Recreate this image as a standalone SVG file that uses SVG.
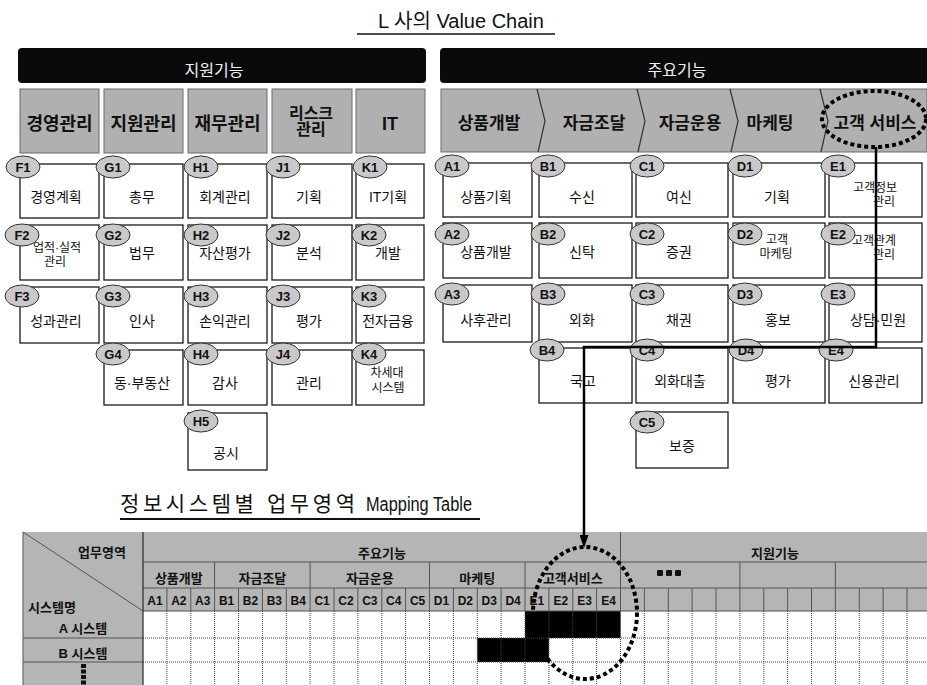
<svg xmlns="http://www.w3.org/2000/svg" width="927" height="685" viewBox="0 0 927 685">
<style>
text{font-family:'Liberation Sans','Noto Sans CJK KR',sans-serif}
.bar{fill:#0a0a0a}
.bart{fill:#f2f2f2;font-size:16px;text-anchor:middle}
.gbox{fill:#b0b0b0;stroke:#6a6a6a;stroke-width:1}
.gt{font-size:18px;font-weight:bold;text-anchor:middle;fill:#111}
.gt2{font-size:16px;font-weight:bold;text-anchor:middle;fill:#111}
.vt{font-size:17px;font-weight:bold;text-anchor:middle;fill:#111}
.wbox{fill:#fff;stroke:#1a1a1a;stroke-width:1.3}
.wt{font-size:14px;text-anchor:middle;fill:#111}
.wt2{font-size:12px;text-anchor:middle;fill:#111}
.tag{fill:#c9c9c9;stroke:#333;stroke-width:1}
.tagt{font-size:13px;font-weight:bold;text-anchor:middle;fill:#111}
.dot{fill:none;stroke:#000;stroke-width:4;stroke-dasharray:4 3}
.conn{fill:none;stroke:#000;stroke-width:2.5}
.th{fill:#b5b5b5}
.tt{font-size:13px;font-weight:bold;text-anchor:middle;fill:#111}
.ts{font-size:13px;font-weight:bold;text-anchor:start;fill:#111}
.tc{font-size:12px;font-weight:bold;text-anchor:middle;fill:#111}
.gl{fill:none;stroke:#555;stroke-width:1}
.dl{fill:none;stroke:#444;stroke-width:1;stroke-dasharray:1 1}
.sep{fill:none;stroke:#333;stroke-width:1.2}
</style>
<defs>
<marker id="ah" viewBox="0 0 13 9" refX="5" refY="4.5" markerWidth="13" markerHeight="9" markerUnits="userSpaceOnUse" orient="auto">
<path d="M0,0 L13,4.5 L0,9 z" fill="#000"/>
</marker>
</defs>

<!-- Titles -->
<g id="title-vc">
<text x="461" y="28" font-size="20" text-anchor="middle" fill="#111">L 사의 Value Chain</text>
<line x1="357" y1="34" x2="555" y2="34" stroke="#111" stroke-width="1.5"/>
</g>

<!-- Black bars -->
<g id="bar-support">
<rect class="bar" x="18" y="48" width="408" height="35" rx="4"/>
<text class="bart" x="214" y="76">지원기능</text>
</g>
<g id="bar-main">
<rect class="bar" x="440" y="48" width="495" height="35" rx="4"/>
<text class="bart" x="677" y="76">주요기능</text>
</g>

<!-- Support category boxes -->
<g id="cat-F"><rect class="gbox" x="20" y="89" width="79" height="64"/><text class="gt" x="59.5" y="130">경영관리</text></g>
<g id="cat-G"><rect class="gbox" x="104" y="89" width="79" height="64"/><text class="gt" x="143.5" y="130">지원관리</text></g>
<g id="cat-H"><rect class="gbox" x="188" y="89" width="79" height="64"/><text class="gt" x="227.5" y="130">재무관리</text></g>
<g id="cat-J"><rect class="gbox" x="272" y="89" width="80" height="64"/><text class="gt2" x="311" y="119">리스크</text><text class="gt2" x="311" y="135">관리</text></g>
<g id="cat-K"><rect class="gbox" x="356" y="89" width="69" height="64"/><text class="gt" x="390" y="130">IT</text></g>

<!-- Main chevron band -->
<g id="chain">
<rect x="441" y="89" width="486" height="63" fill="#b0b0b0" stroke="#6a6a6a" stroke-width="1"/>
<path class="sep" d="M537,89 L545,121 L538,152 M637,89 L645,121 L638,152 M730,89 L738,121 L731,152 M820,89 L828,121 L821,152"/>
</g>
<g id="cat-A"><text class="vt" x="489" y="129">상품개발</text></g>
<g id="cat-B"><text class="vt" x="594" y="129">자금조달</text></g>
<g id="cat-C"><text class="vt" x="690" y="129">자금운용</text></g>
<g id="cat-D"><text class="vt" x="770" y="129">마케팅</text></g>
<g id="cat-E"><text class="vt" x="875" y="129">고객 서비스</text><ellipse class="dot" cx="874" cy="119" rx="52" ry="28"/></g>

<!-- Left white boxes -->
<g id="F1"><rect class="wbox" x="20" y="164" width="79" height="54"/><ellipse class="tag" cx="23" cy="167" rx="17" ry="11"/><text class="tagt" x="23" y="172">F1</text><text class="wt" x="56" y="202">경영계획</text></g>
<g id="G1"><rect class="wbox" x="104" y="164" width="79" height="54"/><ellipse class="tag" cx="113" cy="167" rx="17" ry="11"/><text class="tagt" x="113" y="172">G1</text><text class="wt" x="142" y="202">총무</text></g>
<g id="H1"><rect class="wbox" x="188" y="164" width="79" height="54"/><ellipse class="tag" cx="201" cy="167" rx="17" ry="11"/><text class="tagt" x="201" y="172">H1</text><text class="wt" x="225" y="202">회계관리</text></g>
<g id="J1"><rect class="wbox" x="272" y="164" width="80" height="54"/><ellipse class="tag" cx="283" cy="167" rx="17" ry="11"/><text class="tagt" x="283" y="172">J1</text><text class="wt" x="309" y="202">기획</text></g>
<g id="K1"><rect class="wbox" x="356" y="164" width="68" height="54"/><ellipse class="tag" cx="370" cy="167" rx="17" ry="11"/><text class="tagt" x="370" y="172">K1</text><text class="wt" x="388" y="202">IT기획</text></g>

<g id="F2"><rect class="wbox" x="20" y="225" width="79" height="55"/><text class="wt2" x="57" y="252">업적·실적</text><text class="wt2" x="55" y="266">관리</text><ellipse class="tag" cx="22" cy="235" rx="17" ry="11"/><text class="tagt" x="22" y="240">F2</text></g>
<g id="G2"><rect class="wbox" x="104" y="225" width="79" height="55"/><ellipse class="tag" cx="113" cy="235" rx="17" ry="11"/><text class="tagt" x="113" y="240">G2</text><text class="wt" x="142" y="258">법무</text></g>
<g id="H2"><rect class="wbox" x="188" y="225" width="79" height="55"/><ellipse class="tag" cx="201" cy="235" rx="17" ry="11"/><text class="tagt" x="201" y="240">H2</text><text class="wt" x="225" y="258">자산평가</text></g>
<g id="J2"><rect class="wbox" x="272" y="225" width="80" height="55"/><ellipse class="tag" cx="283" cy="235" rx="17" ry="11"/><text class="tagt" x="283" y="240">J2</text><text class="wt" x="309" y="258">분석</text></g>
<g id="K2"><rect class="wbox" x="356" y="225" width="68" height="55"/><ellipse class="tag" cx="369" cy="235" rx="17" ry="11"/><text class="tagt" x="369" y="240">K2</text><text class="wt" x="388" y="258">개발</text></g>

<g id="F3"><rect class="wbox" x="20" y="287" width="79" height="56"/><ellipse class="tag" cx="22" cy="296" rx="17" ry="11"/><text class="tagt" x="22" y="301">F3</text><text class="wt" x="56" y="326">성과관리</text></g>
<g id="G3"><rect class="wbox" x="104" y="287" width="79" height="56"/><ellipse class="tag" cx="113" cy="296" rx="17" ry="11"/><text class="tagt" x="113" y="301">G3</text><text class="wt" x="142" y="326">인사</text></g>
<g id="H3"><rect class="wbox" x="188" y="287" width="79" height="56"/><ellipse class="tag" cx="201" cy="296" rx="17" ry="11"/><text class="tagt" x="201" y="301">H3</text><text class="wt" x="225" y="326">손익관리</text></g>
<g id="J3"><rect class="wbox" x="272" y="287" width="80" height="56"/><ellipse class="tag" cx="283" cy="296" rx="17" ry="11"/><text class="tagt" x="283" y="301">J3</text><text class="wt" x="309" y="326">평가</text></g>
<g id="K3"><rect class="wbox" x="356" y="287" width="68" height="56"/><ellipse class="tag" cx="369" cy="296" rx="17" ry="11"/><text class="tagt" x="369" y="301">K3</text><text class="wt" x="388" y="326">전자금융</text></g>

<g id="G4"><rect class="wbox" x="104" y="350" width="79" height="55"/><ellipse class="tag" cx="113" cy="354" rx="17" ry="11"/><text class="tagt" x="113" y="359">G4</text><text class="wt" x="142" y="388">동·부동산</text></g>
<g id="H4"><rect class="wbox" x="188" y="350" width="79" height="55"/><ellipse class="tag" cx="201" cy="354" rx="17" ry="11"/><text class="tagt" x="201" y="359">H4</text><text class="wt" x="225" y="388">감사</text></g>
<g id="J4"><rect class="wbox" x="272" y="350" width="80" height="55"/><ellipse class="tag" cx="283" cy="354" rx="17" ry="11"/><text class="tagt" x="283" y="359">J4</text><text class="wt" x="309" y="388">관리</text></g>
<g id="K4"><rect class="wbox" x="356" y="350" width="68" height="55"/><text class="wt2" x="387" y="377">차세대</text><text class="wt2" x="388" y="392">시스템</text><ellipse class="tag" cx="369" cy="354" rx="17" ry="11"/><text class="tagt" x="369" y="359">K4</text></g>

<g id="H5"><rect class="wbox" x="188" y="413" width="79" height="57"/><ellipse class="tag" cx="201" cy="421" rx="17" ry="11"/><text class="tagt" x="201" y="426">H5</text><text class="wt" x="226" y="458">공시</text></g>

<!-- Right white boxes -->
<g id="A1"><rect class="wbox" x="443" y="163" width="89" height="54"/><ellipse class="tag" cx="452" cy="166" rx="17" ry="11"/><text class="tagt" x="452" y="171">A1</text><text class="wt" x="486" y="202">상품기획</text></g>
<g id="B1"><rect class="wbox" x="539" y="163" width="93" height="54"/><ellipse class="tag" cx="548" cy="166" rx="17" ry="11"/><text class="tagt" x="548" y="171">B1</text><text class="wt" x="582" y="202">수신</text></g>
<g id="C1"><rect class="wbox" x="636" y="163" width="92" height="54"/><ellipse class="tag" cx="647" cy="166" rx="17" ry="11"/><text class="tagt" x="647" y="171">C1</text><text class="wt" x="679" y="202">여신</text></g>
<g id="D1"><rect class="wbox" x="733" y="163" width="92" height="54"/><ellipse class="tag" cx="745" cy="166" rx="17" ry="11"/><text class="tagt" x="745" y="171">D1</text><text class="wt" x="777" y="202">기획</text></g>
<g id="E1"><rect class="wbox" x="829" y="163" width="93" height="54"/><text class="wt2" x="875" y="192">고객정보</text><text class="wt2" x="884" y="206">관리</text><ellipse class="tag" cx="838" cy="166" rx="17" ry="11"/><text class="tagt" x="838" y="171">E1</text></g>

<g id="A2"><rect class="wbox" x="443" y="223" width="89" height="55"/><ellipse class="tag" cx="452" cy="234" rx="17" ry="11"/><text class="tagt" x="452" y="239">A2</text><text class="wt" x="486" y="257">상품개발</text></g>
<g id="B2"><rect class="wbox" x="539" y="223" width="93" height="55"/><ellipse class="tag" cx="548" cy="234" rx="17" ry="11"/><text class="tagt" x="548" y="239">B2</text><text class="wt" x="582" y="257">신탁</text></g>
<g id="C2"><rect class="wbox" x="636" y="223" width="92" height="55"/><ellipse class="tag" cx="647" cy="234" rx="17" ry="11"/><text class="tagt" x="647" y="239">C2</text><text class="wt" x="679" y="257">증권</text></g>
<g id="D2"><rect class="wbox" x="733" y="223" width="92" height="55"/><ellipse class="tag" cx="745" cy="234" rx="17" ry="11"/><text class="tagt" x="745" y="239">D2</text><text class="wt2" x="777" y="244">고객</text><text class="wt2" x="776" y="258">마케팅</text></g>
<g id="E2"><rect class="wbox" x="829" y="223" width="93" height="55"/><text class="wt2" x="874" y="245">고객관계</text><text class="wt2" x="884" y="259">관리</text><ellipse class="tag" cx="838" cy="234" rx="17" ry="11"/><text class="tagt" x="838" y="239">E2</text></g>

<g id="A3"><rect class="wbox" x="443" y="285" width="89" height="57"/><ellipse class="tag" cx="452" cy="294" rx="17" ry="11"/><text class="tagt" x="452" y="299">A3</text><text class="wt" x="486" y="325">사후관리</text></g>
<g id="B3"><rect class="wbox" x="539" y="285" width="93" height="57"/><ellipse class="tag" cx="548" cy="294" rx="17" ry="11"/><text class="tagt" x="548" y="299">B3</text><text class="wt" x="582" y="325">외화</text></g>
<g id="C3"><rect class="wbox" x="636" y="285" width="92" height="57"/><ellipse class="tag" cx="647" cy="294" rx="17" ry="11"/><text class="tagt" x="647" y="299">C3</text><text class="wt" x="679" y="325">채권</text></g>
<g id="D3"><rect class="wbox" x="733" y="285" width="92" height="57"/><ellipse class="tag" cx="745" cy="294" rx="17" ry="11"/><text class="tagt" x="745" y="299">D3</text><text class="wt" x="778" y="325">홍보</text></g>
<g id="E3"><rect class="wbox" x="829" y="285" width="93" height="57"/><ellipse class="tag" cx="838" cy="294" rx="17" ry="11"/><text class="tagt" x="838" y="299">E3</text><text class="wt" x="878" y="325">상담·민원</text></g>

<g id="B4"><rect class="wbox" x="539" y="348" width="93" height="55"/><ellipse class="tag" cx="547" cy="350" rx="17" ry="11"/><text class="tagt" x="547" y="355">B4</text><text class="wt" x="583" y="386">국고</text></g>
<g id="C4"><rect class="wbox" x="636" y="348" width="92" height="55"/><ellipse class="tag" cx="647" cy="350" rx="17" ry="11"/><text class="tagt" x="647" y="355">C4</text><text class="wt" x="680" y="386">외화대출</text></g>
<g id="D4"><rect class="wbox" x="733" y="348" width="92" height="55"/><ellipse class="tag" cx="746" cy="350" rx="17" ry="11"/><text class="tagt" x="746" y="355">D4</text><text class="wt" x="778" y="386">평가</text></g>
<g id="E4"><rect class="wbox" x="829" y="348" width="93" height="55"/><ellipse class="tag" cx="836" cy="350" rx="17" ry="11"/><text class="tagt" x="836" y="355">E4</text><text class="wt" x="874" y="386">신용관리</text></g>

<g id="C5"><rect class="wbox" x="636" y="412" width="92" height="56"/><ellipse class="tag" cx="647" cy="422" rx="17" ry="11"/><text class="tagt" x="647" y="427">C5</text><text class="wt" x="682" y="451">보증</text></g>

<!-- Table title -->
<g id="title-table">
<text x="120" y="511" font-size="21" fill="#111" textLength="235" lengthAdjust="spacing">정보시스템별 업무영역</text>
<text x="366" y="511" font-size="20" fill="#111" textLength="106" lengthAdjust="spacingAndGlyphs">Mapping Table</text>
<line x1="120" y1="519" x2="480" y2="519" stroke="#111" stroke-width="2"/>
</g>

<!-- Mapping table -->
<g id="mapping-table">
<rect class="th" x="23" y="532" width="904" height="79"/>
<rect class="th" x="23" y="611" width="120" height="74"/>
<rect x="143" y="611" width="784" height="74" fill="#fff"/>
<rect x="525" y="611" width="95.5" height="27" fill="#000"/>
<rect x="477.3" y="638" width="71.6" height="24" fill="#000"/>
<path class="dl" d="M166.9,611V685M190.8,611V685M214.6,611V685M238.5,611V685M262.4,611V685M286.3,611V685M310.1,611V685M334,611V685M357.9,611V685M381.8,611V685M405.6,611V685M429.5,611V685M453.4,611V685M477.3,611V685M501.1,611V685M525,611V685M548.9,611V685M572.8,611V685M596.6,611V685M620.5,611V685M644.4,611V685M668.3,611V685M692.1,611V685M716,611V685M739.9,611V685M763.8,611V685M787.6,611V685M811.5,611V685M835.4,611V685M859.3,611V685M883.1,611V685M907,611V685M143,638H927M143,662H927"/>
<path class="gl" d="M143,562H927M143,588H927M143,611H927M214.6,562V588M310.1,562V588M429.5,562V588M525,562V588M739.9,562V588M835.4,562V588M620.5,532V611M166.9,588V611M190.8,588V611M214.6,588V611M238.5,588V611M262.4,588V611M286.3,588V611M310.1,588V611M334,588V611M357.9,588V611M381.8,588V611M405.6,588V611M429.5,588V611M453.4,588V611M477.3,588V611M501.1,588V611M525,588V611M548.9,588V611M572.8,588V611M596.6,588V611M644.4,588V611M668.3,588V611M692.1,588V611M716,588V611M739.9,588V611M763.8,588V611M787.6,588V611M811.5,588V611M835.4,588V611M859.3,588V611M883.1,588V611M907,588V611M23,638H143M23,662H143M23,532L143,611M23,532V685"/>
<path d="M143,532V685" stroke="#333" stroke-width="1.3"/>
<text class="tt" x="102" y="557">업무영역</text>
<text class="ts" x="28" y="612">시스템명</text>
<text class="tt" x="83" y="633">A 시스템</text>
<text class="tt" x="83" y="658">B 시스템</text>
<rect x="81" y="664" width="5" height="4" fill="#111"/><rect x="81" y="669.5" width="5" height="4" fill="#111"/><rect x="81" y="675" width="5" height="4" fill="#111"/><rect x="81" y="680.5" width="5" height="4" fill="#111"/>
<text class="tt" x="382" y="558">주요기능</text>
<text class="tt" x="775" y="558">지원기능</text>
<text class="tt" x="178.8" y="583">상품개발</text>
<text class="tt" x="262.4" y="583">자금조달</text>
<text class="tt" x="369.8" y="583">자금운용</text>
<text class="tt" x="477.3" y="583">마케팅</text>
<text class="tt" x="572.8" y="583">고객서비스</text>
<rect x="657" y="570" width="6" height="6" rx="1" fill="#111"/><rect x="666" y="570" width="6" height="6" rx="1" fill="#111"/><rect x="675" y="570" width="6" height="6" rx="1" fill="#111"/>
<text class="tc" x="155" y="605">A1</text><text class="tc" x="178.8" y="605">A2</text><text class="tc" x="202.7" y="605">A3</text>
<text class="tc" x="226.6" y="605">B1</text><text class="tc" x="250.4" y="605">B2</text><text class="tc" x="274.3" y="605">B3</text><text class="tc" x="298.2" y="605">B4</text>
<text class="tc" x="322.1" y="605">C1</text><text class="tc" x="345.9" y="605">C2</text><text class="tc" x="369.8" y="605">C3</text><text class="tc" x="393.7" y="605">C4</text><text class="tc" x="417.6" y="605">C5</text>
<text class="tc" x="441.4" y="605">D1</text><text class="tc" x="465.3" y="605">D2</text><text class="tc" x="489.2" y="605">D3</text><text class="tc" x="513.1" y="605">D4</text>
<text class="tc" x="536.9" y="605">E1</text><text class="tc" x="560.8" y="605">E2</text><text class="tc" x="584.7" y="605">E3</text><text class="tc" x="608.6" y="605">E4</text>
<ellipse class="dot" cx="585" cy="613" rx="52" ry="66"/>
</g>

<!-- Connectors -->
<g id="connectors">
<path class="conn" d="M876,147 V347 H584 V540" marker-end="url(#ah)"/>
</g>
</svg>
